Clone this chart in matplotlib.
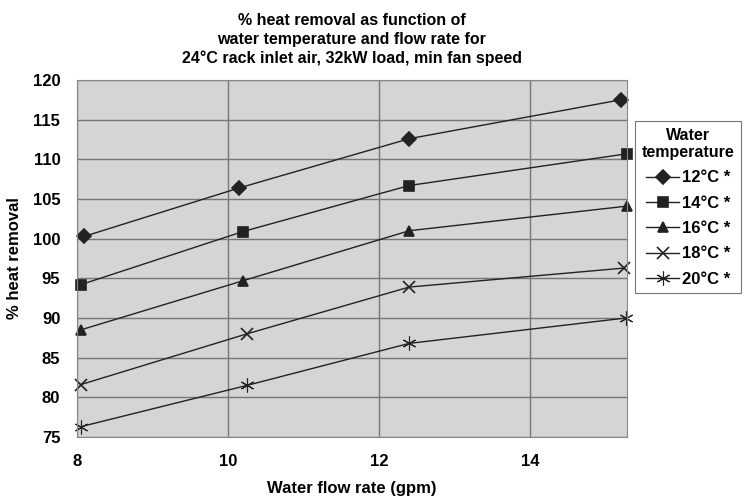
import matplotlib
matplotlib.use("Agg")
import matplotlib.pyplot as plt

plt.rcParams['font.family'] = ['Liberation Sans', 'DejaVu Sans']
plt.rcParams['font.weight'] = 'bold'

# flow rate (gpm) per series and % heat removal
labels = ["12°C *", "14°C *", "16°C *", "18°C *", "20°C *"]
flow_12 = [8.1, 10.15, 12.4, 15.2]
flow_14 = [8.05, 10.2, 12.4, 15.28]
flow_16 = [8.05, 10.2, 12.4, 15.28]
flow_18 = [8.05, 10.25, 12.4, 15.25]
flow_20 = [8.05, 10.25, 12.4, 15.27]
heat_12 = [100.3, 106.4, 112.6, 117.5]
heat_14 = [94.2, 100.9, 106.7, 110.7]
heat_16 = [88.5, 94.7, 101.0, 104.1]
heat_18 = [81.6, 88.0, 93.9, 96.3]
heat_20 = [76.3, 81.5, 86.8, 90.0]

flows = [flow_12, flow_14, flow_16, flow_18, flow_20]
heats = [heat_12, heat_14, heat_16, heat_18, heat_20]
markers = ["D", "s", "^", "x", (6, 2, 0)]
msizes = [7, 7, 7, 8, 10]
mews = [1.2, 1.2, 1.2, 1.2, 0.8]

fig = plt.figure(figsize=(7.47, 5.0), dpi=100)
ax = fig.add_axes([0.103, 0.126, 0.736, 0.714])
ax.set_facecolor("#d5d5d7")

for x, y, m, s, w, lab in zip(flows, heats, markers, msizes, mews, labels):
    ax.plot(x, y, color="#222222", lw=1.0, marker=m, ms=s,
            mew=w, label=lab, clip_on=False)

ax.set_xlim(8, 15.28)
ax.set_ylim(75, 120)
ax.set_xticks([8, 10, 12, 14])
ax.set_yticks(range(75, 121, 5))
ax.grid(True, color="#777777", lw=1.0)
ax.set_axisbelow(True)
ax.tick_params(length=0, labelsize=12)
ax.tick_params(axis="x", pad=12)
ax.tick_params(axis="y", pad=12)
for sp in ax.spines.values():
    sp.set_color("#888888")

ax.set_xlabel("Water flow rate (gpm)", fontsize=12, fontweight="bold", labelpad=9)
ax.set_ylabel("% heat removal", fontsize=12, fontweight="bold", labelpad=8)
ax.set_title("% heat removal as function of\nwater temperature and flow rate for\n"
             "24°C rack inlet air, 32kW load, min fan speed",
             fontsize=11.5, fontweight="bold", pad=12, linespacing=1.3)

leg = ax.legend(title="Water\ntemperature", loc="upper left",
                bbox_to_anchor=(1.015, 0.885), fontsize=12, title_fontsize=11.5,
                frameon=True, fancybox=False, edgecolor="#555555",
                handlelength=2.0, handletextpad=0.15, borderaxespad=0,
                labelspacing=0.62, borderpad=0.4)
leg.get_title().set_fontweight("bold")
leg.get_title().set_multialignment("center")
leg.get_frame().set_linewidth(0.8)

fig.savefig("out.png", dpi=100)
